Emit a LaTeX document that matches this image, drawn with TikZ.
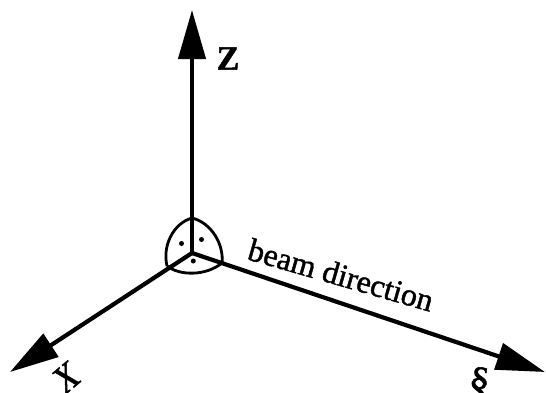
\documentclass[tikz,border=0pt]{standalone}
\usepackage{fontspec}
\setmainfont{Liberation Serif}
\newfontfamily\heavyserif[FakeBold=1.3]{Liberation Serif}
\usetikzlibrary{arrows.meta}
\begin{document}
\begin{tikzpicture}[x=1pt,y=-1pt,
  axis/.style={line width=4.2pt,-{Triangle[length=49pt,width=27pt]}},
  octant/.style={line width=2.8pt},
  lbl/.style={inner sep=0pt,font=\heavyserif\fontsize{32}{32}\selectfont},
  dotmark/.style={circle,fill=black,inner sep=0pt,minimum size=5pt}]
\useasboundingbox (0,0) rectangle (546,392);
\clip (0,0) rectangle (546,392);
\coordinate (O) at (192,253);
\coordinate (ZT) at (192,10);
\coordinate (XT) at (10,372);
\coordinate (YT) at (545,372);
\coordinate (A) at (192,218);
\coordinate (B) at (167,266);
\coordinate (C) at (222,263);
\draw[octant] (A) .. controls (174,223) and (162,245) .. (B);
\draw[octant] (A) .. controls (212,223) and (224,245) .. (C);
\draw[octant] (B) .. controls (180,276) and (206,276) .. (C);
\draw[axis] (O) -- (ZT);
\draw[axis] (O) -- (XT);
\draw[axis] (O) -- (YT);
\node[dotmark] (d1) at (181.5,243.5) {};
\node[dotmark] (d2) at (201.5,239.5) {};
\node[dotmark] (d3) at (193.3,261) {};
\node[lbl,font=\heavyserif\fontsize{34}{34}\selectfont\bfseries] (zl) at (228,58.5) {Z};
\node[lbl,anchor=base west,rotate=-16] (bl) at (246,259) {beam direction};
\node[lbl,font=\heavyserif\fontsize{38}{38}\selectfont\itshape,rotate=40] (xl) at (66,378) {X};
\node[lbl,font=\heavyserif\fontsize{42}{42}\selectfont,rotate=-10] (yl) at (479,384) {§};
\end{tikzpicture}
\end{document}
